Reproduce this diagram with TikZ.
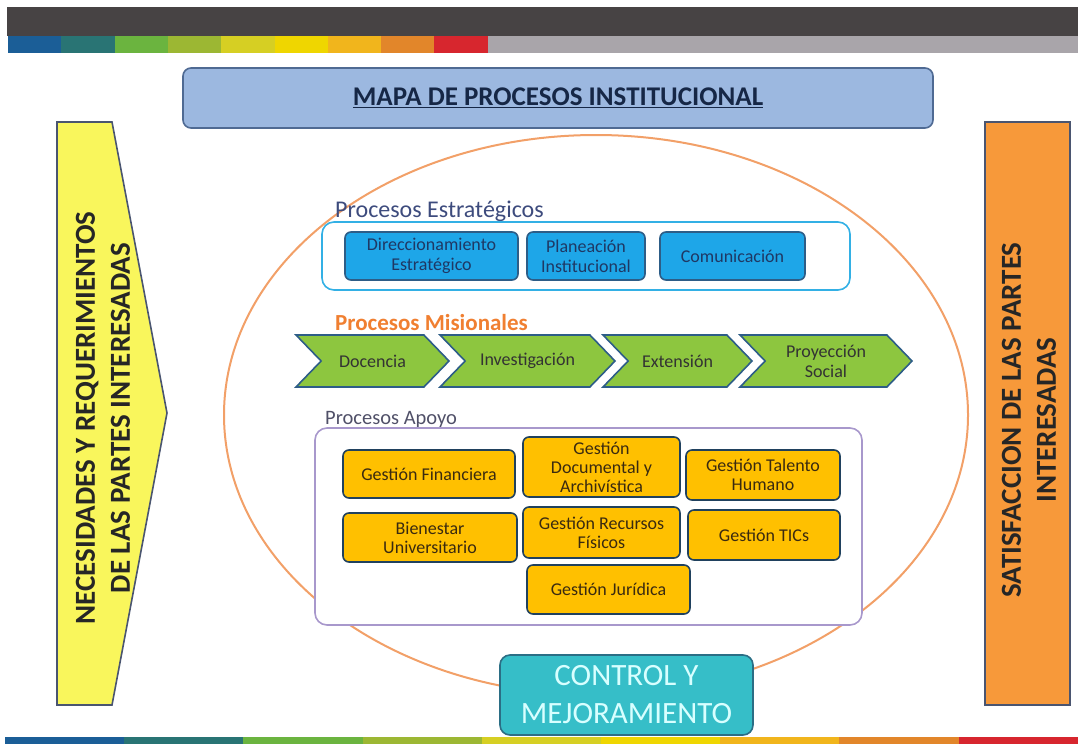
\documentclass[tikz,border=0pt]{standalone}
\usepackage{fontspec}
\setmainfont{Carlito}
\usetikzlibrary{shapes.symbols}

\definecolor{barDark}{HTML}{474344}
\definecolor{barGray}{HTML}{A9A5AA}
\definecolor{sA}{HTML}{1B5E97}
\definecolor{sB}{HTML}{297474}
\definecolor{sC}{HTML}{6BB43F}
\definecolor{sD}{HTML}{9CB733}
\definecolor{sE}{HTML}{D6CF23}
\definecolor{sF}{HTML}{EFD600}
\definecolor{sG}{HTML}{F1B51C}
\definecolor{sH}{HTML}{E2862A}
\definecolor{sI}{HTML}{D7262E}
\definecolor{titleFill}{HTML}{9CB8E0}
\definecolor{titleLine}{HTML}{4F6A93}
\definecolor{needFill}{HTML}{F9F65C}
\definecolor{satFill}{HTML}{F7993A}
\definecolor{sideLine}{HTML}{4A5570}
\definecolor{ringLine}{HTML}{F2A068}
\definecolor{estLine}{HTML}{33B0E5}
\definecolor{estFill}{HTML}{1EA6E8}
\definecolor{estText}{HTML}{1F3864}
\definecolor{boxLine}{HTML}{2D5D87}
\definecolor{headEst}{HTML}{3D4B7D}
\definecolor{headMis}{HTML}{F07F31}
\definecolor{headApo}{HTML}{505068}
\definecolor{misFill}{HTML}{8DC63F}
\definecolor{apoLine}{HTML}{A898CC}
\definecolor{apoFill}{HTML}{FFC000}
\definecolor{apoText}{HTML}{3A2A10}
\definecolor{ctrlFill}{HTML}{36BEC8}
\definecolor{ctrlLine}{HTML}{2B6E85}
\definecolor{ctrlText}{HTML}{D8FFFF}

\begin{document}
\begin{tikzpicture}[x=1pt,y=-1pt,
  estbox/.style={draw=boxLine,line width=1.6pt,fill=estFill,rounded corners=6pt,text=estText,align=center,inner sep=1pt,font=\fontsize{18}{20}\selectfont},
  misbox/.style={signal,signal to=east,signal from=west,signal pointer angle=92,draw=boxLine,line width=1.6pt,fill=misFill,text=black!80,align=center,inner sep=1pt,minimum height=52,font=\fontsize{18}{20}\selectfont},
  apobox/.style={draw=boxLine!70!black,line width=1.6pt,fill=apoFill,rounded corners=6pt,text=apoText,align=center,inner sep=1pt,font=\fontsize{18}{19}\selectfont},
  frame/.style={draw,line width=1.6pt,fill=white,rounded corners=12pt},
  head/.style={anchor=base west,inner sep=0pt},
  sidetext/.style={text=black!85,align=center,inner sep=0pt,font=\fontsize{29}{35}\selectfont\bfseries}]
\useasboundingbox (0,0) rectangle (1078,744);

\fill[barDark] (7,7) rectangle (1078,36);
\fill[barGray] (488,36) rectangle (1078,53);
\foreach \c [count=\i from 0] in {sA,sB,sC,sD,sE,sF,sG,sH,sI} {
  \fill[\c] (8+53.3*\i,36) rectangle (8+53.3*\i+53.3,53);
  \fill[\c] (5+119.2*\i,737) rectangle (5+119.2*\i+119.2,744);
}

\node[draw=titleLine,line width=1.6pt,fill=titleFill,rounded corners=8pt,minimum width=750,minimum height=60,
  text=estText!70!black,font=\fontsize{27}{32}\selectfont\bfseries] (title) at (558,98) {\underline{MAPA DE PROCESOS INSTITUCIONAL}};

\draw[sideLine,line width=1.6pt,fill=needFill] (57,122) -- (112,122) -- (167,413) -- (112,705) -- (57,705) -- cycle;
\node[sidetext,rotate=90] (need) at (103,418) {NECESIDADES Y REQUERIMIENTOS\\DE LAS PARTES INTERESADAS};

\node[draw=sideLine,line width=1.6pt,fill=satFill,rotate=90,minimum width=583,minimum height=85,sidetext] (sat) at (1027.5,413.5) {};
\node[sidetext,rotate=90] (satText) at (1029,420) {SATISFACCION DE LAS PARTES\\INTERESADAS};

\draw[ringLine,line width=2pt] (596,415) ellipse [x radius=372,y radius=280];

\node[head,text=headEst,font=\fontsize{24}{28}\selectfont] (hEst) at (335,217) {Procesos Estratégicos};
\node[frame,draw=estLine,minimum width=528,minimum height=68] (est) at (586,256) {};
\node[estbox,minimum width=173,minimum height=48] (dir) at (431.5,256) {Direccionamiento\\Estratégico};
\node[estbox,minimum width=118,minimum height=48] (plan) at (586,256) {Planeación\\Institucional};
\node[estbox,minimum width=145,minimum height=48] (com) at (732.5,256) {Comunicación};

\node[head,text=headMis,font=\fontsize{23}{26}\selectfont\bfseries] (hMis) at (335,330) {Procesos Misionales};
\node[misbox,minimum width=153] (doc) at (372.5,361) {Docencia};
\node[misbox,minimum width=175] (inv) at (527.5,361) {Investigación};
\node[misbox,minimum width=149] (ext) at (677.5,361) {Extensión};
\node[misbox,minimum width=172] (proy) at (826,361) {Proyección\\Social};

\node[head,text=headApo,font=\fontsize{20.5}{24}\selectfont] (hApo) at (325,424) {Procesos Apoyo};
\node[frame,draw=apoLine,minimum width=547,minimum height=197] (apo) at (588.5,526.5) {};
\node[apobox,minimum width=172,minimum height=48] (fin) at (429,474) {Gestión Financiera};
\node[apobox,minimum width=157,minimum height=60] (docu) at (601.5,467) {Gestión\\Documental y\\Archivística};
\node[apobox,minimum width=154,minimum height=50] (tal) at (763,475) {Gestión Talento\\Humano};
\node[apobox,minimum width=174,minimum height=49] (bien) at (430,537.5) {Bienestar\\Universitario};
\node[apobox,minimum width=157,minimum height=51] (rec) at (601.5,532.5) {Gestión Recursos\\Físicos};
\node[apobox,minimum width=152,minimum height=50] (tic) at (764,535) {Gestión TICs};
\node[apobox,minimum width=163,minimum height=49] (jur) at (608.5,589.5) {Gestión Jurídica};

\node[draw=ctrlLine,line width=1.6pt,fill=ctrlFill,rounded corners=10pt,minimum width=253,minimum height=80,
  text=ctrlText,align=center,font=\fontsize{31}{38}\selectfont] (ctrl) at (626.5,695) {CONTROL Y\\MEJORAMIENTO};
\end{tikzpicture}
\end{document}
